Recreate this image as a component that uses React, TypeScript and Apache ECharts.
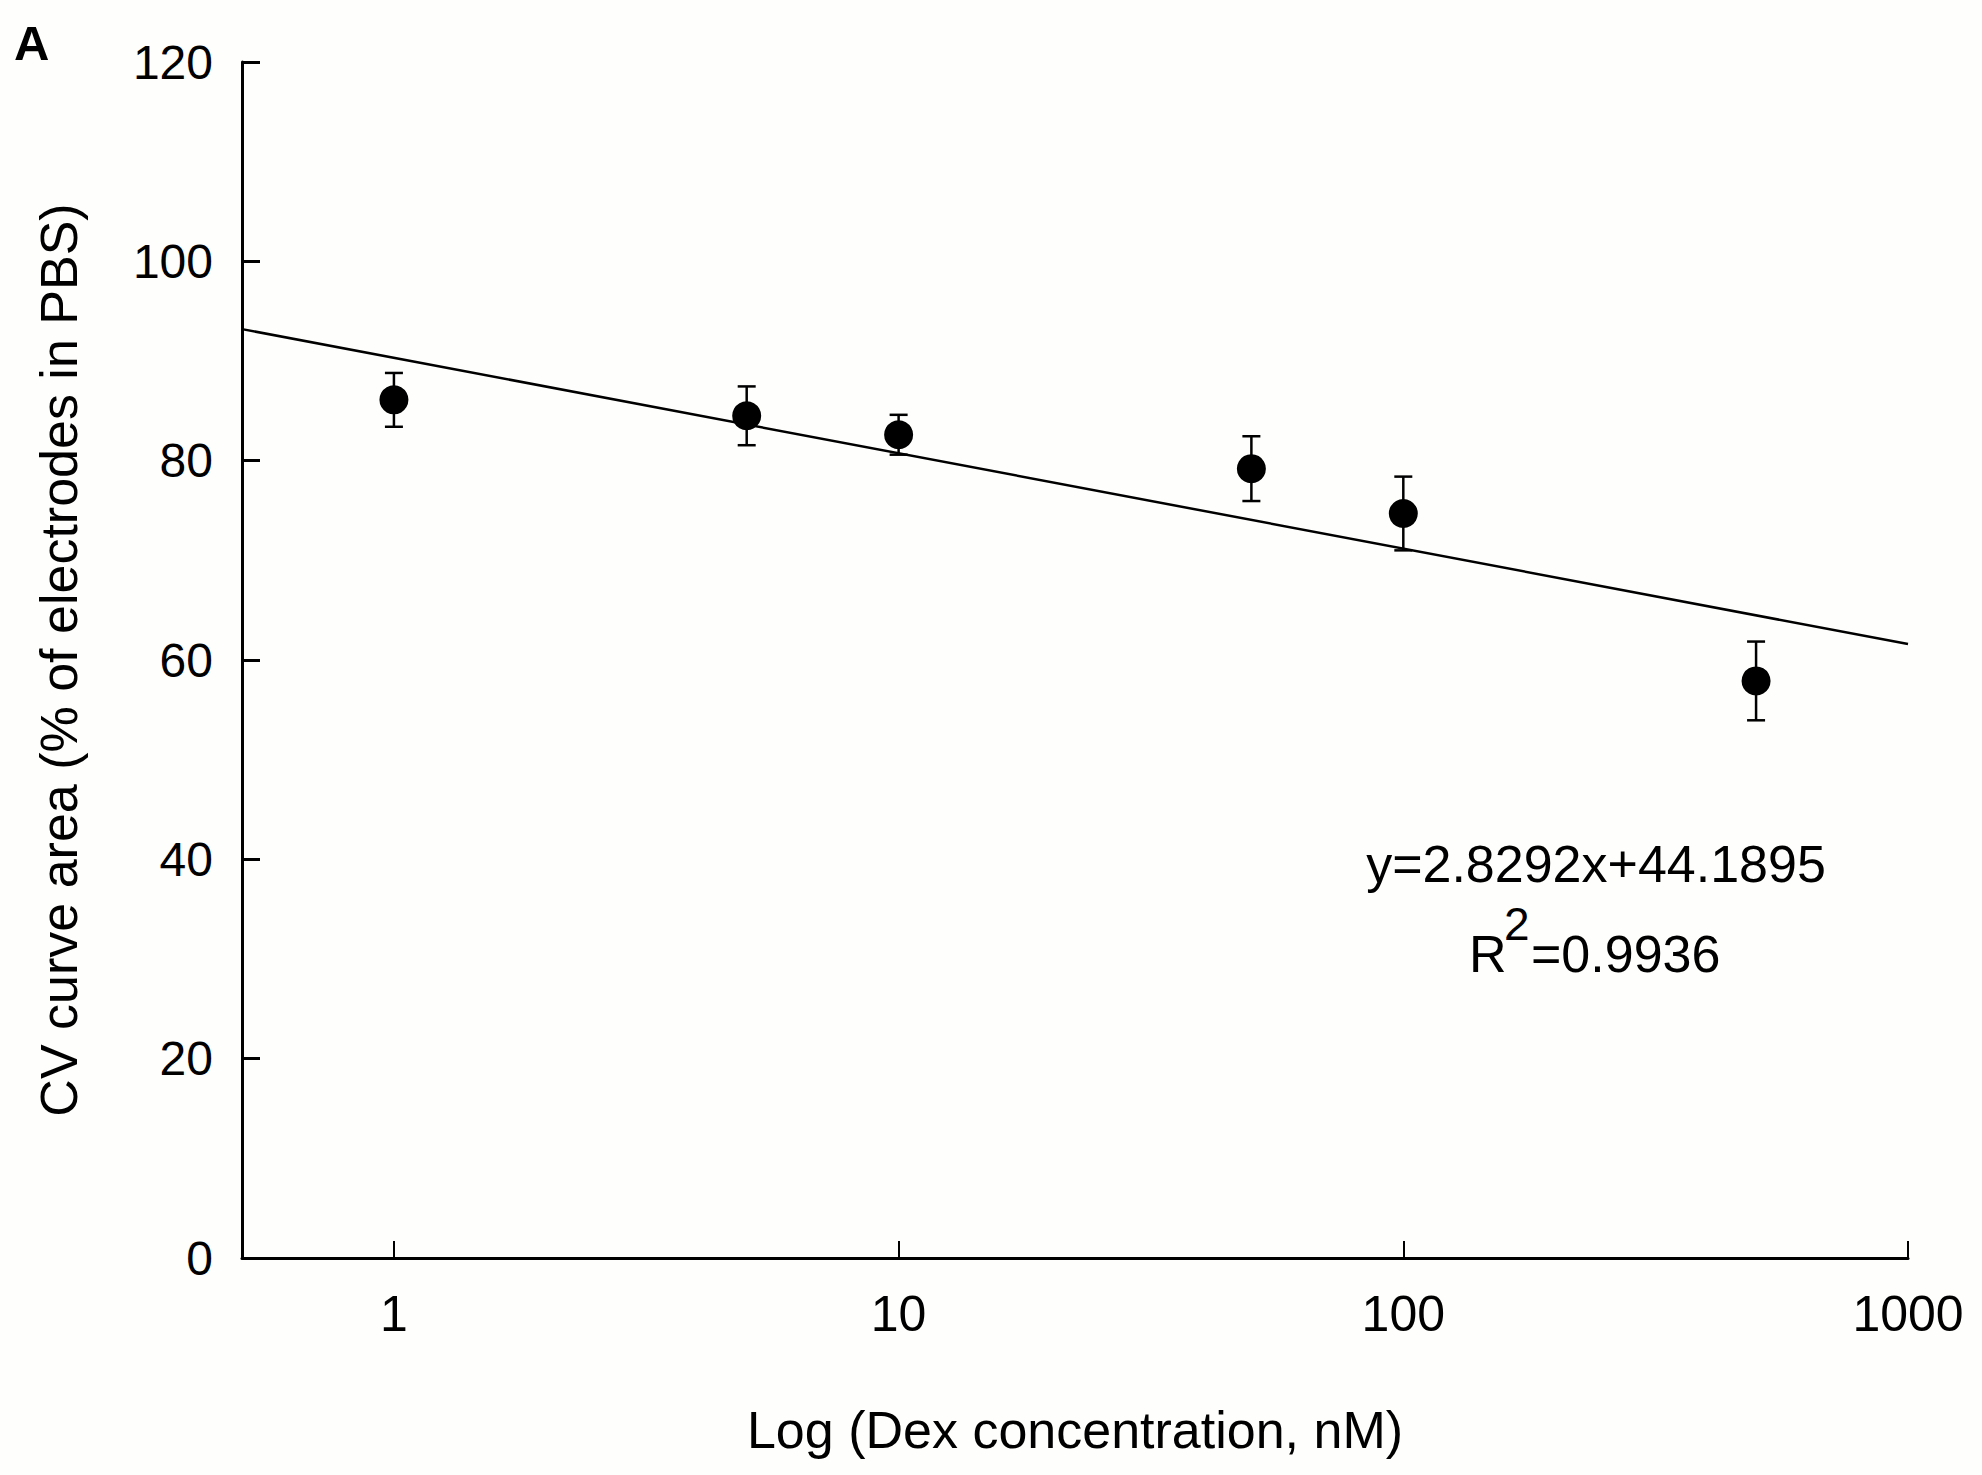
import React, { useEffect, useRef } from "react";
import * as echarts from "echarts";

// Dex concentration (nM)
const concentrations: number[] = [1, 5, 10, 50, 100, 500];
// CV curve area (% of electrodes in PBS), mean
const meanValues: number[] = [86.1, 84.5, 82.6, 79.2, 74.7, 57.9];
// error bar half-heights
const errorValues: number[] = [2.7, 2.95, 2.0, 3.25, 3.7, 3.95];
// regression line end points
const fitX: number[] = [0.5, 1000];
const fitY: number[] = [93.2, 61.6];
// axis texts
const xTickLabels: string[] = ["1", "10", "100", "1000"];
const xAxisTitle = "Log (Dex concentration, nM)";
const yAxisTitle = "CV curve area (% of electrodes in PBS)";
const equationText = "y=2.8292x+44.1895";
const r2Value = "=0.9936";
const panelLabel = "A";

const FONT = '"Liberation Sans", Arial, Helvetica, sans-serif';

export default function App() {
  const ref = useRef<HTMLDivElement | null>(null);

  useEffect(() => {
    document.body.style.margin = "0";
    if (!ref.current) return;
    const chart = echarts.init(ref.current, undefined, { renderer: "svg" });

    const points = concentrations.map((c, i) => [c, meanValues[i]]);
    const errData = concentrations.map((c, i) => [
      c,
      meanValues[i] - errorValues[i],
      meanValues[i] + errorValues[i],
    ]);
    const fitData = fitX.map((x, i) => [x, fitY[i]]);

    const option: any = {
      animation: false,
      backgroundColor: "#fefefc",
      textStyle: { fontFamily: FONT, color: "#000" },
      grid: {
        left: 242,
        right: 74,
        top: 62,
        bottom: 217,
        containLabel: false,
        outerBoundsMode: "none",
      },
      xAxis: {
        type: "log",
        logBase: 10,
        min: 0.5,
        max: 1000,
        name: xAxisTitle,
        nameLocation: "middle",
        nameGap: 146,
        nameTextStyle: { fontSize: 52, fontFamily: FONT, color: "#000" },
        axisLine: { show: true, onZero: false, lineStyle: { color: "#000", width: 3 } },
        axisTick: { show: true, inside: true, length: 17, lineStyle: { color: "#000", width: 2 } },
        minorTick: { show: false },
        splitLine: { show: false },
        axisLabel: {
          show: true,
          margin: 31,
          fontSize: 50,
          fontFamily: FONT,
          color: "#000",
          showMinLabel: true,
          showMaxLabel: true,
          formatter: (v: number) => {
            const l = Math.log10(v);
            const r = Math.round(l);
            if (Math.abs(l - r) < 1e-6 && r >= 0) {
              const s = String(Math.round(v));
              return xTickLabels.indexOf(s) >= 0 ? s : "";
            }
            return "";
          },
        },
      },
      yAxis: {
        type: "value",
        min: 0,
        max: 120,
        interval: 20,
        name: yAxisTitle,
        nameLocation: "middle",
        nameGap: 157,
        nameTextStyle: { fontSize: 52, fontFamily: FONT, color: "#000" },
        axisLine: { show: true, onZero: false, lineStyle: { color: "#000", width: 3 } },
        axisTick: { show: true, inside: true, length: 18, lineStyle: { color: "#000", width: 3 } },
        splitLine: { show: false },
        axisLabel: { margin: 29, fontSize: 48, fontFamily: FONT, color: "#000" },
      },
      series: [
        {
          type: "line",
          data: fitData,
          showSymbol: false,
          symbol: "none",
          lineStyle: { color: "#000", width: 2.5, opacity: 1 },
          z: 2,
          silent: true,
        },
        {
          type: "custom",
          data: errData,
          encode: { x: 0, y: [1, 2] },
          z: 3,
          silent: true,
          renderItem: (params: any, api: any) => {
            const x = api.value(0);
            const lo = api.value(1);
            const hi = api.value(2);
            const top = api.coord([x, hi]);
            const bot = api.coord([x, lo]);
            const hw = 9;
            const st = { stroke: "#000", lineWidth: 2.5, fill: "none" };
            return {
              type: "group",
              children: [
                { type: "line", shape: { x1: top[0], y1: top[1], x2: bot[0], y2: bot[1] }, style: st },
                { type: "line", shape: { x1: top[0] - hw, y1: top[1], x2: top[0] + hw, y2: top[1] }, style: st },
                { type: "line", shape: { x1: bot[0] - hw, y1: bot[1], x2: bot[0] + hw, y2: bot[1] }, style: st },
              ],
            };
          },
        },
        {
          type: "scatter",
          data: points,
          symbol: "circle",
          symbolSize: 29,
          itemStyle: { color: "#000", opacity: 1 },
          z: 4,
          silent: true,
        },
      ],
      graphic: [
        {
          type: "text",
          x: 14,
          y: 43,
          style: {
            text: panelLabel,
            fontSize: 49,
            fontWeight: "bold",
            fontFamily: FONT,
            fill: "#000",
            align: "left",
            verticalAlign: "middle",
          },
        },
        {
          type: "text",
          x: 1596,
          y: 864,
          style: {
            text: equationText,
            fontSize: 52,
            fontFamily: FONT,
            fill: "#000",
            align: "center",
            verticalAlign: "middle",
          },
        },
        {
          type: "text",
          x: 1469,
          y: 954,
          style: {
            text: "R",
            fontSize: 52,
            fontFamily: FONT,
            fill: "#000",
            align: "left",
            verticalAlign: "middle",
          },
        },
        {
          type: "text",
          x: 1504,
          y: 924,
          style: {
            text: "2",
            fontSize: 46,
            fontFamily: FONT,
            fill: "#000",
            align: "left",
            verticalAlign: "middle",
          },
        },
        {
          type: "text",
          x: 1531,
          y: 954,
          style: {
            text: r2Value,
            fontSize: 52,
            fontFamily: FONT,
            fill: "#000",
            align: "left",
            verticalAlign: "middle",
          },
        },
      ],
    };

    chart.setOption(option);
    return () => {
      chart.dispose();
    };
  }, []);

  return <div ref={ref} style={{ width: 1982, height: 1475 }} />;
}
